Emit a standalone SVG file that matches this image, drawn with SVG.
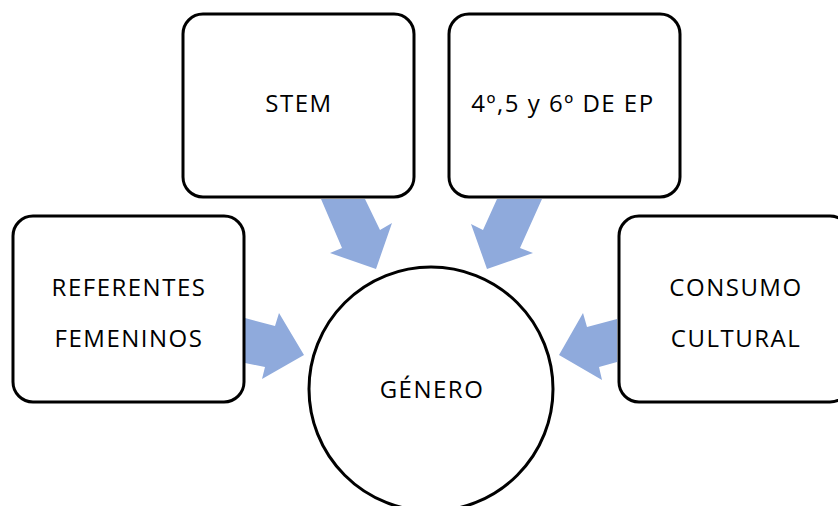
<svg xmlns="http://www.w3.org/2000/svg" width="838" height="506" viewBox="0 0 838 506">
<style>
.box{fill:#fff;stroke:#000;stroke-width:3}
.arr{fill:#8FAADC}
text{font-family:"Open Sans","Liberation Sans",sans-serif;font-size:24px;letter-spacing:1.5px;fill:#000;text-anchor:middle}
</style>
<rect width="838" height="506" fill="#fff"/>
<g id="connectors">
<polygon class="arr" points="321,199 365,199 380,230 392,223 376,269 330,253 342,248"/>
<polygon class="arr" points="542,199 497,199 483,230 471,224 487,269 533,253 520,248"/>
<polygon class="arr" points="245,318 275,326 279,313 304,355 262,379 265,367 245,363"/>
<polygon class="arr" points="617,319 587,327 583,313 559,355 602,380 599,367 617,362"/>
</g>
<g id="stem"><rect class="box" x="183" y="14" width="231" height="183" rx="20"/><text x="299" y="112">STEM</text></g>
<g id="ep"><rect class="box" x="449" y="14" width="231" height="183" rx="20"/><text x="563" y="112">4º,5 y 6º DE EP</text></g>
<g id="referentes"><rect class="box" x="13" y="216" width="231" height="186" rx="20"/><text x="129" y="296">REFERENTES</text><text x="129" y="347">FEMENINOS</text></g>
<g id="consumo"><rect class="box" x="619" y="216" width="231" height="186" rx="20"/><text x="736" y="296">CONSUMO</text><text x="736" y="347">CULTURAL</text></g>
<g id="genero"><circle class="box" cx="431" cy="389" r="122"/><text x="432" y="398">GÉNERO</text></g>
</svg>
